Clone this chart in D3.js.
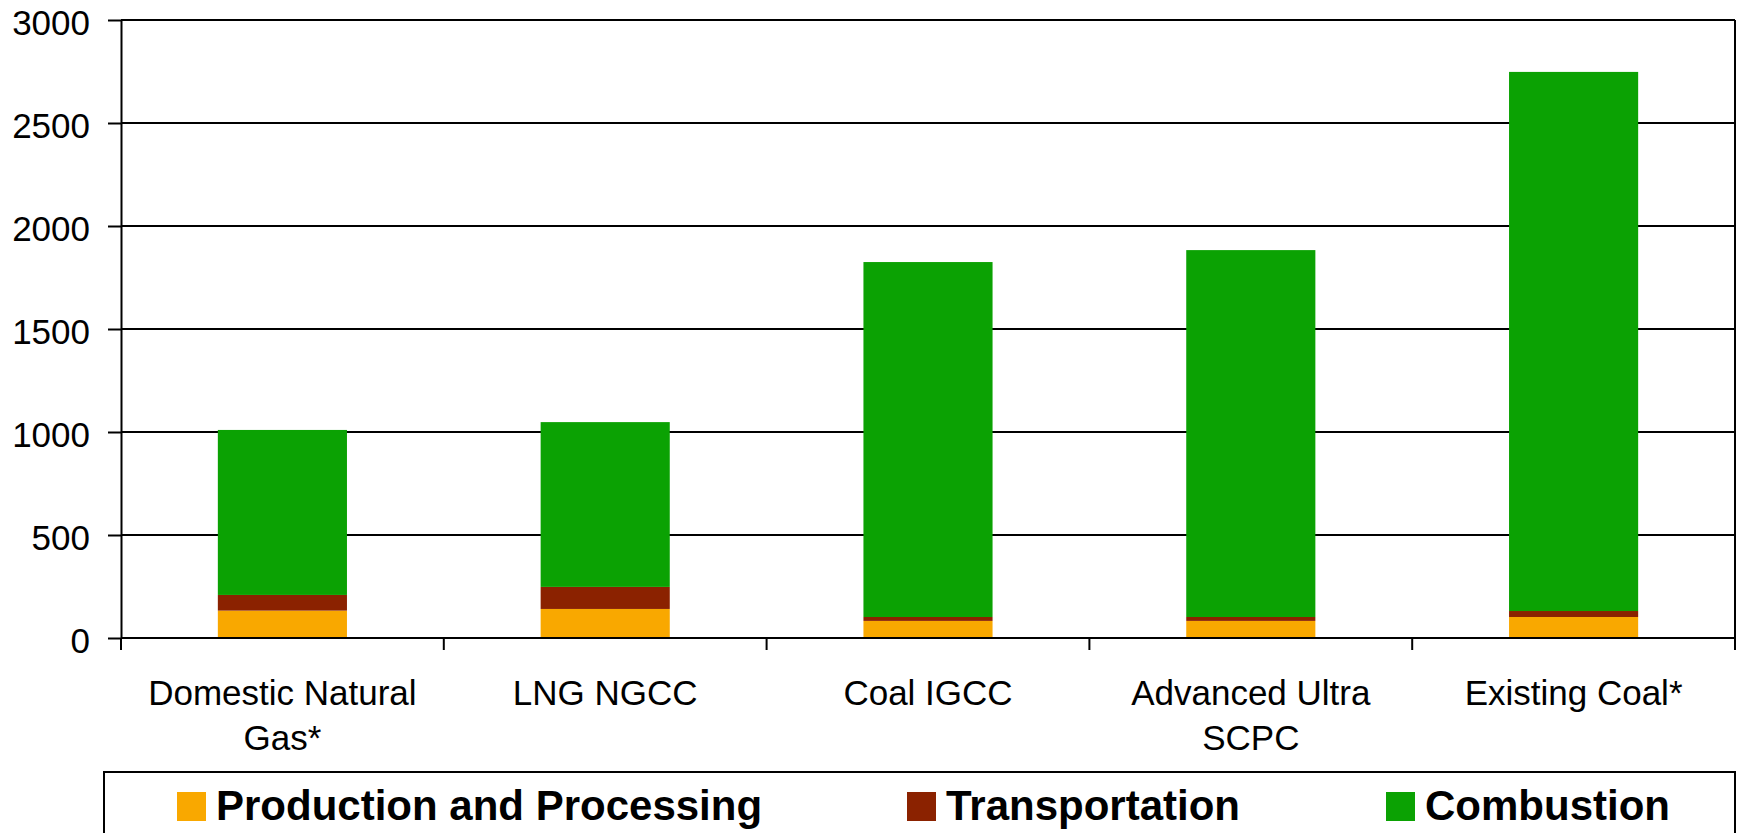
<!DOCTYPE html>
<html>
    <head>
        <meta charset="utf-8">
        <style>
            body { margin: 0; background: white; }
            text { font-family: "Liberation Sans", Arial, sans-serif; fill: black; }
            .grid line { stroke: black; stroke-width: 2; }
            .axis path, .axis line { stroke: black; stroke-width: 2; }
            .axis text { font-size: 35px; }
            .legend_border { fill: white; stroke: black; stroke-width: 2; }
            .legend text { font-size: 42px; font-weight: bold; }
        </style>
    </head>
    <body>
        <div id="chart"></div>
        <script src="https://cdn.jsdelivr.net/npm/d3@7"></script>
        <script>

//////////////////// data ////////////////////
let categories = ['Domestic Natural\nGas*', 'LNG NGCC', 'Coal IGCC', 'Advanced Ultra\nSCPC', 'Existing Coal*'];
let production = [133, 141, 83, 83, 102];
let transportation = [76, 107, 19, 19, 29];
let combustion = [801, 800, 1723, 1781, 2617];
let series_names = ['Production and Processing', 'Transportation', 'Combustion'];
let y_ticks = [0, 500, 1000, 1500, 2000, 2500, 3000];

//////////////////// layout ////////////////////
let W = 1738;
let H = 833;
let plot_L = 121;
let plot_R = 1735;
let plot_T = 20;
let plot_B = 638;
let colors = ['#F9A800', '#8B2200', '#0BA203'];
let legend_x = [177, 907, 1386];

let table = categories.map((c, i) => ({
    cat: c,
    [series_names[0]]: production[i],
    [series_names[1]]: transportation[i],
    [series_names[2]]: combustion[i]
}));

let svg = d3.select('#chart').append('svg')
    .attr('width', W)
    .attr('height', H);

let x = d3.scaleBand()
    .domain(categories)
    .range([plot_L, plot_R])
    .paddingInner(0.6)
    .paddingOuter(0.3);

let y = d3.scaleLinear()
    .domain([0, 3000])
    .range([plot_B, plot_T]);

// grid lines
svg.append('g')
    .classed('grid', true)
    .selectAll('line')
    .data(y_ticks.filter(d => d > 0))
    .join('line')
    .attr('x1', plot_L)
    .attr('x2', plot_R)
    .attr('y1', d => y(d))
    .attr('y2', d => y(d));

// right border of plot area
svg.append('line')
    .attr('x1', plot_R).attr('x2', plot_R)
    .attr('y1', plot_T).attr('y2', plot_B)
    .attr('stroke', 'black')
    .attr('stroke-width', 2);

// stacked bars
let stacked = d3.stack().keys(series_names)(table);
svg.append('g')
    .selectAll('g')
    .data(stacked)
    .join('g')
    .attr('fill', (d, i) => colors[i])
    .selectAll('rect')
    .data(d => d)
    .join('rect')
    .attr('x', d => x(d.data.cat))
    .attr('width', x.bandwidth())
    .attr('y', d => y(d[1]))
    .attr('height', d => y(d[0]) - y(d[1]));

// y axis
let y_axis = svg.append('g')
    .classed('axis', true)
    .attr('transform', `translate(${plot_L}, 0)`)
    .call(d3.axisLeft(y).tickValues(y_ticks).tickFormat(d3.format('d'))
        .tickSize(13).tickPadding(18).tickSizeOuter(0));
y_axis.selectAll('text').attr('dy', '0.4em');

// x axis : ticks between categories
let step = x.step();
let x_axis = svg.append('g')
    .classed('axis', true);
x_axis.append('line')
    .attr('x1', plot_L).attr('x2', plot_R)
    .attr('y1', plot_B).attr('y2', plot_B);
x_axis.selectAll('.xtick')
    .data(categories.map(c => x(c) - step * x.paddingOuter()).concat([plot_R]))
    .join('line')
    .classed('xtick', true)
    .attr('x1', d => d).attr('x2', d => d)
    .attr('y1', plot_B).attr('y2', plot_B + 12);

x_axis.selectAll('.xlabel')
    .data(categories)
    .join('text')
    .classed('xlabel', true)
    .attr('text-anchor', 'middle')
    .attr('x', d => x(d) + x.bandwidth() / 2)
    .attr('y', 705)
    .selectAll('tspan')
    .data(d => d.split('\n'))
    .join('tspan')
    .attr('x', function() { return d3.select(this.parentNode).attr('x'); })
    .attr('dy', (d, i) => i == 0 ? 0 : 45)
    .text(d => d);

// legend
let legend = svg.append('g').classed('legend', true);
legend.append('rect')
    .classed('legend_border', true)
    .attr('x', 104)
    .attr('y', 772)
    .attr('width', plot_R - 104)
    .attr('height', 100);

let items = legend.selectAll('.item')
    .data(series_names)
    .join('g')
    .classed('item', true)
    .attr('transform', (d, i) => `translate(${legend_x[i]}, 792)`);
items.append('rect')
    .attr('width', 29)
    .attr('height', 29)
    .attr('fill', (d, i) => colors[i]);
items.append('text')
    .attr('x', 39)
    .attr('y', 28)
    .text(d => d);

        </script>
    </body>
</html>
